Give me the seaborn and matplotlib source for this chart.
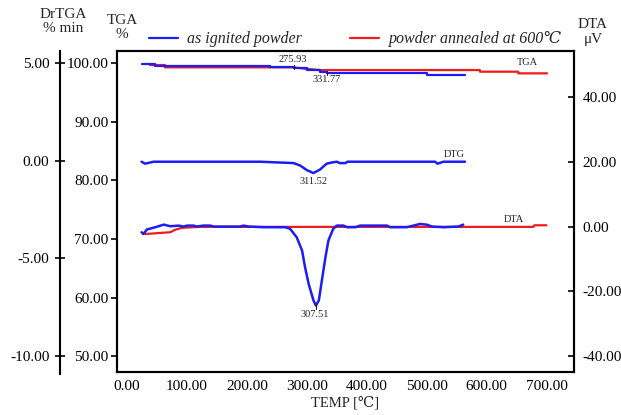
import matplotlib
matplotlib.use("Agg")
import matplotlib.pyplot as plt
import pandas as pd
import seaborn as sns

# TGA (%), as ignited powder
tga_ign_t = [24, 47, 47, 239, 239, 278, 278, 300, 300, 322, 322, 333, 333, 500, 500, 564]
tga_ign_v = [99.8, 99.8, 99.55, 99.55, 99.37, 99.37, 99.1, 99.1, 98.8, 98.8, 98.5, 98.5,
             98.24, 98.24, 97.95, 97.95]

# TGA (%), powder annealed at 600 C
tga_ann_t = [38, 63, 63, 277, 300, 322, 589, 589, 653, 653, 701]
tga_ann_v = [99.66, 99.66, 99.26, 99.26, 99.0, 98.8, 98.8, 98.52, 98.52, 98.24, 98.24]

# DTG (%/min), as ignited powder
dtg_t = [24, 30, 44, 222, 278, 289, 300, 311, 322, 333, 340, 350, 355, 364, 368,
         514, 518, 528, 564]
dtg_v = [-0.05, -0.15, -0.05, -0.05, -0.12, -0.25, -0.48, -0.63, -0.45, -0.15, -0.1,
         -0.05, -0.12, -0.12, -0.05, -0.05, -0.15, -0.05, -0.05]

# DTA (uV), as ignited powder
dta_ign_t = [24, 27, 33, 47, 61, 72, 86, 94, 100, 111, 116, 127, 139, 144, 189, 194,
             203, 228, 264, 272, 283, 292, 297, 303, 311, 315, 320, 325, 331, 336,
             344, 350, 361, 367, 381, 389, 434, 439, 467, 478, 489, 500, 509, 528,
             553, 561]
dta_ign_v = [-1.75, -2.3, -0.9, -0.2, 0.6, 0.1, 0.3, 0.0, 0.3, 0.3, 0.0, 0.3, 0.3,
             0.0, 0.0, 0.3, 0.0, -0.2, -0.2, -0.7, -3.3, -7.4, -12.6, -17.7, -22.8,
             -24.4, -22.8, -16.7, -9.5, -4.3, -0.7, 0.3, 0.3, -0.2, -0.2, 0.3, 0.3,
             -0.2, -0.2, 0.3, 0.8, 0.6, 0.0, -0.2, 0.0, 0.6]

# DTA (uV), powder annealed at 600 C
dta_ann_t = [30, 72, 80, 91, 120, 678, 680, 700]
dta_ann_v = [-2.3, -1.75, -1.0, -0.4, -0.1, -0.1, 0.4, 0.4]

sns.set_theme(style="white")
plt.rcParams["font.family"] = ["Liberation Serif", "DejaVu Serif"]
plt.rcParams["font.size"] = 10
plt.rcParams["axes.unicode_minus"] = False

blue = "#1c1cf5"
red = "#f01c1c"

fig = plt.figure(figsize=(6.21, 4.15), dpi=100)
ax = fig.add_axes([0.1884, 0.1036, 0.7359, 0.7735])
ax_dta = ax.twinx()
ax_dtg = ax.twinx()

df_ign = pd.DataFrame({"t": tga_ign_t, "v": tga_ign_v})
df_ann = pd.DataFrame({"t": tga_ann_t, "v": tga_ann_v})
sns.lineplot(data=df_ann, x="t", y="v", ax=ax, color=red, lw=1.6, sort=False,
             estimator=None, label="powder annealed at 600℃")
sns.lineplot(data=df_ign, x="t", y="v", ax=ax, color=blue, lw=1.6, sort=False,
             estimator=None, label="as ignited powder")

sns.lineplot(x=dtg_t, y=dtg_v, ax=ax_dtg, color=blue, lw=1.8, sort=False, estimator=None)
sns.lineplot(x=dta_ann_t, y=dta_ann_v, ax=ax_dta, color=red, lw=1.6, sort=False,
             estimator=None)
sns.lineplot(x=dta_ign_t, y=dta_ign_v, ax=ax_dta, color=blue, lw=1.8, sort=False,
             estimator=None)

ax.set_xlim(-17, 746)
ax.set_ylim(47.3, 102.05)
ax_dtg.set_ylim(-10.81, 5.615)
ax_dta.set_ylim(-44.9, 54.2)

ax.set_xticks(range(0, 701, 100))
ax.set_xticklabels([f"{v:.2f}" for v in range(0, 701, 100)])
ax.set_yticks(range(50, 101, 10))
ax.set_yticklabels([f"{v:.2f}" for v in range(50, 101, 10)])
ax_dta.set_yticks([-40, -20, 0, 20, 40])
ax_dta.set_yticklabels([f"{v:.2f}" for v in [-40, -20, 0, 20, 40]])
ax_dtg.set_yticks([-10, -5, 0, 5])
ax_dtg.set_yticklabels([f"{v:.2f}" for v in [-10, -5, 0, 5]])

ax.set_xlabel("TEMP [℃]", labelpad=2, fontsize=10.5)
ax.set_ylabel("")
ax_dta.set_ylabel("")
ax_dtg.set_ylabel("")

for a in (ax, ax_dta, ax_dtg):
    for s in a.spines.values():
        s.set_color("black")
        s.set_linewidth(1.5)
ax.tick_params(axis="x", direction="in", length=4, width=1.2, pad=6, colors="black")
ax.tick_params(axis="y", direction="out", length=4, width=1.2, pad=2, colors="black")
ax_dta.tick_params(axis="y", direction="in", length=4, width=1.2, pad=6, colors="black")

ax_dtg.spines["right"].set_visible(False)
ax_dtg.spines["top"].set_visible(False)
ax_dtg.spines["bottom"].set_visible(False)
ax_dtg.spines["left"].set_visible(True)
ax_dtg.spines["left"].set_position(("axes", -0.125))
ax_dtg.spines["left"].set_bounds(-10.9, 5.615)
ax_dtg.yaxis.set_ticks_position("left")
ax_dtg.yaxis.set_label_position("left")
ax_dtg.tick_params(axis="y", direction="inout", length=7, width=1.2, pad=4, colors="black")

# curve labels and peak marks
lab = dict(fontsize=7.5, color="#222222", ha="center")
ax.text(668, 99.4, "TGA", va="bottom", **lab)
ax.text(277, 99.75, "275.93", va="bottom", **lab)
ax.plot([279, 279], [98.9, 99.6], color="#222222", lw=0.8)
ax.text(333, 98.0, "331.77", va="top", **lab)
ax.plot([334, 334], [97.9, 98.6], color="#222222", lw=0.8)
ax_dtg.text(546, 0.1, "DTG", va="bottom", **lab)
ax_dtg.text(311.52, -0.85, "311.52", va="top", **lab)
ax_dta.text(645, 0.9, "DTA", va="bottom", **lab)
ax_dta.text(313, -25.8, "307.51", va="top", **lab)
ax_dta.plot([315, 315], [-25.5, -23.5], color="#222222", lw=0.8)

handles, labels = ax.get_legend_handles_labels()
leg = ax.legend(handles[::-1], labels[::-1], loc="center left",
                bbox_to_anchor=(0.07, 1.036), ncol=2, frameon=False, handlelength=1.8,
                columnspacing=3.0, handletextpad=0.6, fontsize=11.5, borderaxespad=0,
                borderpad=0)
for t in leg.get_texts():
    t.set_fontstyle("italic")

fig.text(63 / 621, 1 - 22 / 415, "DrTGA\n% min", ha="center", va="center",
         fontsize=11, linespacing=1.1)
fig.text(122 / 621, 1 - 27 / 415, "TGA\n%", ha="center", va="center",
         fontsize=11, linespacing=1.1)
fig.text(593 / 621, 1 - 32 / 415, "DTA\nμV", ha="center", va="center",
         fontsize=11, linespacing=1.1)

fig.savefig("out.png", dpi=100)
